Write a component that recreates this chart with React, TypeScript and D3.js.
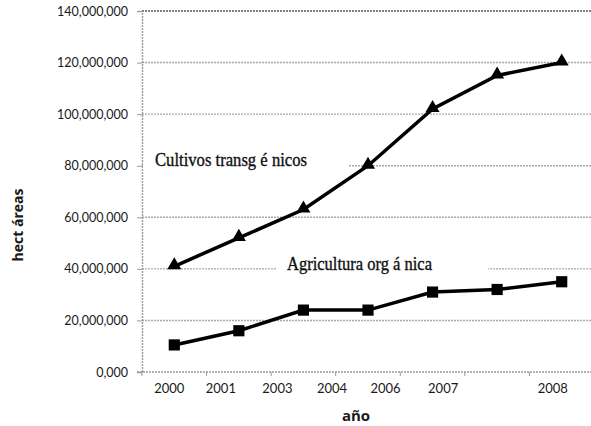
import { useEffect, useRef } from 'react';
import * as d3 from 'd3';

// category labels on the x axis (as printed)
const years = ['2000', '2001', '2003', '2004', '2006', '2007', '2008'];
// hectáreas
const transgenicos = [41000000, 52000000, 63000000, 80000000, 102000000, 115000000, 120000000];
const organica = [10500000, 16000000, 24000000, 24000000, 31000000, 32000000, 35000000];
const yTicks = [0, 20000000, 40000000, 60000000, 80000000, 100000000, 120000000, 140000000];

// the year labels in the original are not centred on the points
const labelShift = [-5, -18, -26, -36, -47, -54, -9];

const W = 591;
const H = 426;

const fmt = (v: number) => (v === 0 ? '0,000' : d3.format(',.0f')(v));

export default function App() {
  const ref = useRef<SVGSVGElement | null>(null);

  useEffect(() => {
    if (!ref.current) return;
    const svg = d3.select(ref.current);
    svg.selectAll('*').remove();

    const margin = { top: 11, right: -3, bottom: 54, left: 142 };
    const x = d3
      .scaleBand<string>()
      .domain(years)
      .range([margin.left, W - margin.right]);
    const y = d3
      .scaleLinear()
      .domain([0, 140000000])
      .range([H - margin.bottom, margin.top]);

    const cx = (i: number) => (x(years[i]) || 0) + x.bandwidth() / 2;

    // grid
    svg
      .append('g')
      .selectAll('line')
      .data(yTicks.filter((d) => d > 0))
      .join('line')
      .attr('x1', margin.left)
      .attr('x2', W)
      .attr('y1', (d) => y(d))
      .attr('y2', (d) => y(d))
      .attr('stroke', (d) => (d === 140000000 ? '#555' : '#a8a8a8'))
      .attr('stroke-width', (d) => (d === 140000000 ? 1.6 : 1.4))
      .attr('stroke-dasharray', '2,1');

    // y axis
    const yAxis = svg
      .append('g')
      .attr('transform', `translate(${margin.left},0)`)
      .call(
        d3
          .axisLeft(y)
          .tickValues(yTicks)
          .tickSize(5)
          .tickPadding(9)
          .tickFormat((d) => fmt(Number(d)))
      );
    yAxis.select('.domain').attr('stroke', '#999').attr('stroke-dasharray', '2,1').attr('stroke-width', 1.4);
    yAxis.selectAll('.tick line').attr('stroke', '#999');
    yAxis
      .selectAll('.tick text')
      .attr('fill', '#1a1a1a')
      .style('font-family', 'Lato, sans-serif')
      .style('font-size', '12.5px');

    // x axis
    const xAxis = svg
      .append('g')
      .attr('transform', `translate(0,${H - margin.bottom})`);
    xAxis
      .append('line')
      .attr('x1', margin.left - 5)
      .attr('x2', W)
      .attr('stroke', '#999')
      .attr('stroke-width', 1.4)
      .attr('stroke-dasharray', '2,1');
    xAxis
      .selectAll('line.tk')
      .data(years)
      .join('line')
      .attr('class', 'tk')
      .attr('x1', (d) => x(d) || 0)
      .attr('x2', (d) => x(d) || 0)
      .attr('y1', 0)
      .attr('y2', 4)
      .attr('stroke', '#999');
    xAxis
      .selectAll('text')
      .data(years)
      .join('text')
      .attr('x', (d, i) => cx(i) + labelShift[i])
      .attr('y', 21)
      .attr('text-anchor', 'middle')
      .attr('fill', '#1a1a1a')
      .style('font-family', 'Lato, sans-serif')
      .style('font-size', '13px')
      .text((d) => d);

    // axis titles
    svg
      .append('text')
      .attr('x', 356)
      .attr('y', 421)
      .attr('text-anchor', 'middle')
      .style('font-family', '"Open Sans", sans-serif')
      .style('font-weight', 'bold')
      .style('font-size', '15px')
      .attr('fill', '#1a1a1a')
      .text('año');
    svg
      .append('text')
      .attr('transform', 'translate(23,225) rotate(-90)')
      .attr('text-anchor', 'middle')
      .style('font-family', '"Open Sans", sans-serif')
      .style('font-weight', 'bold')
      .style('font-size', '14px')
      .attr('fill', '#1a1a1a')
      .text('hect áreas');

    // series labels with white boxes over the grid
    const labels = [
      { text: 'Cultivos transg é nicos', x: 155, y: 166, w: 152, box: [margin.left + 1, 348, y(80000000)] },
      { text: 'Agricultura org á nica', x: 287, y: 270, w: 145, box: [277, 488, y(40000000)] }
    ];
    labels.forEach((l) => {
      svg
        .append('rect')
        .attr('x', l.box[0])
        .attr('y', l.box[2] - 3)
        .attr('width', l.box[1] - l.box[0])
        .attr('height', 6)
        .attr('fill', '#fff');
      svg
        .append('text')
        .attr('x', l.x)
        .attr('y', l.y)
        .attr('textLength', l.w)
        .attr('lengthAdjust', 'spacingAndGlyphs')
        .style('font-family', '"Liberation Serif", serif')
        .style('font-size', '18px')
        .attr('fill', '#111')
        .attr('stroke', '#111')
        .attr('stroke-width', 0.35)
        .text(l.text);
    });

    // lines and markers
    const line = d3
      .line<number>()
      .x((d, i) => cx(i))
      .y((d) => y(d));

    const series = [
      { values: transgenicos, symbol: d3.symbolTriangle, size: 85, dy: -1 },
      { values: organica, symbol: d3.symbolSquare, size: 125, dy: 0 }
    ];
    series.forEach((s) => {
      svg
        .append('path')
        .attr('d', line(s.values))
        .attr('fill', 'none')
        .attr('stroke', '#000')
        .attr('stroke-width', 3.5);
      svg
        .append('g')
        .selectAll('path')
        .data(s.values)
        .join('path')
        .attr('transform', (d, i) => `translate(${cx(i)},${y(d) + s.dy})`)
        .attr('d', d3.symbol().type(s.symbol).size(s.size)())
        .attr('fill', '#000');
    });
  }, []);

  return (
    <svg
      ref={ref}
      width={W}
      height={H}
      style={{ position: 'absolute', left: 0, top: 0, background: '#fff' }}
    />
  );
}
